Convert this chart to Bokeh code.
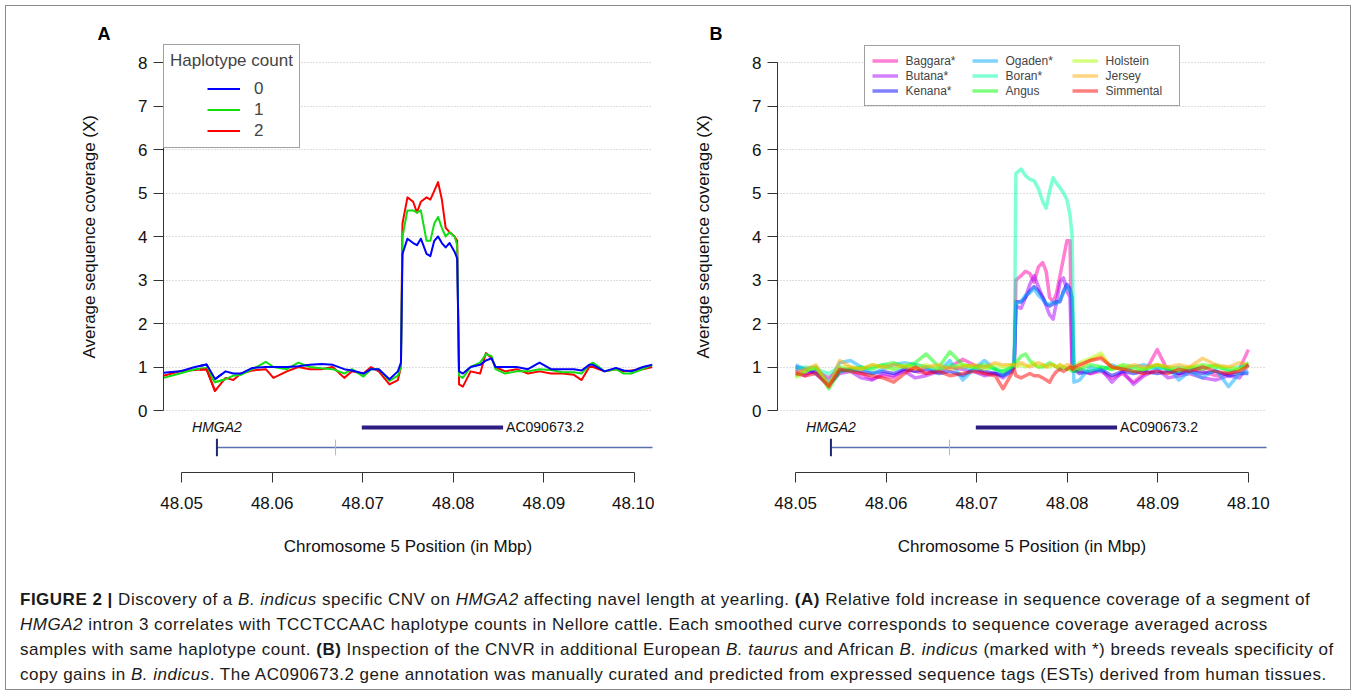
from bokeh.plotting import figure
from bokeh.models import (Range1d, FixedTicker, NumeralTickFormatter, Legend, LegendItem,
                          Div, Title)
from bokeh.layouts import column, row
from bokeh.embed import file_html
from bokeh.resources import INLINE
from bokeh.core.properties import value

FONT = "Liberation Sans"

# ---------------- Panel A: coverage by haplotype count ----------------
a_pos = [48.04801, 48.04979, 48.05148, 48.05275, 48.05368, 48.05486, 48.05571, 48.05655,
         48.05782, 48.05930, 48.06014, 48.06162, 48.06289, 48.06416, 48.06543, 48.06669,
         48.06796, 48.06881, 48.07008, 48.07092, 48.07177, 48.07295, 48.07388, 48.07422,
         48.07439, 48.07494, 48.07557, 48.07599, 48.07642, 48.07705, 48.07747, 48.07790,
         48.07832, 48.07874, 48.07916, 48.07959, 48.08014, 48.08043, 48.08064, 48.08106,
         48.08191, 48.08297, 48.08360, 48.08423, 48.08466, 48.08571, 48.08698, 48.08825,
         48.08952, 48.09079, 48.09205, 48.09332, 48.09417, 48.09501, 48.09543, 48.09670,
         48.09797, 48.09882, 48.09966, 48.10093, 48.10199]
a_hap0 = [0.87, 0.90, 1.00, 1.06, 0.72, 0.90, 0.85, 0.85, 0.98, 1.00, 1.00, 1.00, 1.02, 1.05,
          1.07, 1.05, 0.95, 0.92, 0.85, 0.95, 0.95, 0.72, 0.90, 1.10, 3.60, 3.95, 3.85, 3.80,
          3.95, 3.60, 3.55, 3.90, 4.00, 3.85, 3.75, 3.85, 3.65, 3.50, 0.90, 0.85, 1.00, 1.05,
          1.15, 1.20, 1.00, 1.00, 1.00, 0.95, 1.10, 0.95, 0.95, 0.95, 0.92, 1.05, 1.05, 0.90,
          0.98, 0.92, 0.90, 1.00, 1.05]
a_hap1 = [0.75, 0.85, 0.95, 0.97, 0.65, 0.72, 0.80, 0.82, 0.95, 1.12, 1.00, 0.95, 1.10, 1.00,
          0.97, 0.95, 0.85, 0.95, 0.78, 0.95, 0.95, 0.68, 0.80, 1.00, 4.00, 4.60, 4.60, 4.55,
          4.60, 3.90, 3.90, 4.30, 4.45, 4.20, 4.00, 4.10, 4.00, 3.80, 0.80, 0.75, 1.00, 1.10,
          1.30, 1.25, 0.95, 0.85, 0.90, 0.90, 0.95, 0.93, 0.88, 0.88, 0.85, 1.05, 1.10, 0.90,
          0.95, 0.85, 0.85, 0.95, 1.05]
a_hap2 = [0.80, 0.90, 0.93, 0.95, 0.45, 0.75, 0.70, 0.85, 0.92, 0.95, 0.75, 0.90, 1.00, 0.95,
          0.95, 1.00, 0.75, 0.90, 0.85, 1.00, 0.90, 0.60, 0.70, 1.00, 4.30, 4.90, 4.80, 4.55,
          4.80, 4.90, 4.85, 5.05, 5.25, 4.85, 4.20, 4.10, 4.00, 3.90, 0.60, 0.55, 0.90, 0.85,
          1.32, 1.20, 1.00, 0.90, 0.95, 0.85, 0.90, 0.85, 0.85, 0.82, 0.70, 1.00, 1.00, 0.90,
          0.95, 0.90, 0.92, 0.95, 1.00]
hap_labels = ["0", "1", "2"]
hap_colors = ["#0000FF", "#11DD11", "#FF0000"]

# ---------------- Panel B: coverage by breed ----------------
b_pos = [48.05000, 48.05105, 48.05224, 48.05367, 48.05487, 48.05606, 48.05725, 48.05844, 48.05964, 48.06083,
         48.06202, 48.06322, 48.06441, 48.06584, 48.06703, 48.06846, 48.06966, 48.07085, 48.07204, 48.07290,
         48.07386, 48.07414, 48.07433, 48.07490, 48.07538, 48.07586, 48.07634, 48.07681, 48.07729, 48.07767,
         48.07805, 48.07844, 48.07882, 48.07920, 48.07958, 48.07996, 48.08030, 48.08053, 48.08073, 48.08135,
         48.08254, 48.08373, 48.08492, 48.08612, 48.08731, 48.08850, 48.08993, 48.09113, 48.09232, 48.09351,
         48.09494, 48.09637, 48.09781, 48.09900, 48.10000]
b_baggara = [0.95, 0.85, 0.90, 0.75, 0.95, 0.95, 0.85, 0.72, 0.80, 0.75,
             0.95, 0.90, 0.85, 0.95, 1.00, 1.18, 1.05, 0.85, 0.85, 0.80,
             0.90, 1.00, 3.00, 3.10, 3.20, 3.15, 2.95, 3.30, 3.40, 3.20,
             2.60, 2.50, 2.70, 3.10, 3.50, 3.90, 3.90, 1.00, 0.95, 0.90,
             0.85, 0.90, 0.75, 0.85, 0.65, 0.85, 1.40, 0.90, 0.85, 0.95,
             0.90, 0.80, 0.85, 0.95, 1.40]
b_butana = [0.90, 0.80, 0.95, 0.60, 0.85, 0.90, 0.75, 0.70, 0.85, 0.80,
            0.90, 0.75, 0.80, 0.90, 1.00, 0.95, 0.90, 0.80, 0.85, 0.75,
            0.90, 1.00, 2.40, 2.35, 2.60, 2.90, 3.10, 2.85, 2.60, 2.40,
            2.20, 2.10, 2.50, 2.95, 3.05, 2.75, 2.60, 1.00, 0.90, 0.95,
            0.85, 0.95, 0.65, 0.90, 0.60, 0.80, 0.95, 0.75, 0.80, 0.85,
            0.75, 0.70, 0.80, 0.75, 1.05]
b_kenana = [1.00, 0.95, 0.85, 0.60, 0.90, 0.95, 0.90, 0.85, 0.90, 0.85,
            0.95, 0.90, 0.95, 0.85, 0.90, 0.80, 0.95, 0.90, 0.85, 0.80,
            0.95, 1.10, 2.50, 2.50, 2.60, 2.75, 2.85, 2.75, 2.60, 2.45,
            2.40, 2.45, 2.50, 2.50, 2.75, 2.90, 2.80, 2.60, 0.95, 0.85,
            0.90, 0.95, 0.80, 0.90, 0.85, 0.90, 0.85, 0.90, 0.85, 0.90,
            0.85, 0.90, 0.80, 0.85, 0.85]
b_ogaden = [1.05, 0.95, 1.00, 0.65, 1.10, 1.15, 1.00, 0.85, 0.95, 1.05,
            1.10, 1.05, 1.00, 0.90, 1.15, 0.70, 0.95, 1.15, 0.95, 0.80,
            0.90, 1.10, 2.45, 2.50, 2.65, 2.70, 2.80, 2.65, 2.55, 2.45,
            2.45, 2.50, 2.45, 2.55, 2.70, 2.85, 2.75, 2.55, 0.65, 0.70,
            1.00, 0.90, 1.05, 0.95, 1.00, 1.05, 0.95, 1.00, 0.70, 0.90,
            0.75, 0.95, 0.55, 0.85, 0.90]
b_boran = [0.95, 1.00, 0.95, 0.85, 1.00, 0.90, 0.95, 1.00, 1.05, 0.95,
           1.00, 1.05, 1.00, 0.95, 1.05, 1.00, 0.95, 1.00, 0.95, 0.90,
           1.00, 1.10, 5.45, 5.55, 5.40, 5.32, 5.28, 5.10, 4.80, 4.65,
           5.05, 5.35, 5.22, 5.12, 5.00, 4.85, 4.50, 4.00, 1.00, 0.95,
           0.90, 1.00, 0.95, 1.05, 1.00, 0.95, 1.00, 0.95, 1.00, 0.95,
           1.05, 1.00, 0.95, 1.00, 1.05]
b_angus = [0.80, 0.90, 1.00, 0.50, 0.90, 0.95, 1.00, 0.95, 1.05, 1.10,
           1.00, 1.10, 1.30, 1.00, 1.35, 1.05, 1.00, 1.05, 0.95, 0.90,
           1.00, 1.10, 1.10, 1.25, 1.30, 1.15, 1.05, 1.00, 1.00, 1.05,
           1.10, 1.05, 1.00, 0.95, 1.00, 0.95, 0.95, 0.90, 0.90, 0.95,
           1.05, 1.00, 0.95, 1.00, 0.90, 0.95, 1.05, 0.95, 0.90, 1.00,
           0.95, 1.05, 0.90, 0.95, 1.10]
b_holstein = [0.75, 0.90, 1.00, 0.60, 1.00, 1.00, 0.95, 1.05, 1.00, 0.95,
              1.05, 1.00, 1.05, 0.95, 1.00, 1.05, 1.00, 0.95, 1.05, 1.00,
              1.05, 1.05, 1.00, 1.05, 1.00, 1.05, 1.10, 1.00, 1.05, 1.00,
              1.00, 1.05, 1.00, 1.05, 1.00, 0.95, 1.00, 0.95, 1.00, 1.10,
              1.20, 1.32, 0.95, 1.05, 1.00, 0.95, 1.05, 1.00, 0.95, 1.00,
              1.05, 1.00, 1.00, 0.95, 1.00]
b_jersey = [0.85, 0.95, 1.05, 0.55, 1.15, 1.00, 0.95, 1.05, 1.00, 1.05,
            1.00, 0.95, 1.00, 1.05, 0.95, 1.00, 1.05, 1.00, 1.10, 1.05,
            1.05, 1.05, 1.05, 1.10, 1.05, 1.00, 1.05, 1.10, 1.05, 1.00,
            1.05, 1.05, 1.00, 1.05, 1.00, 1.05, 1.05, 1.00, 0.95, 1.00,
            1.15, 1.25, 1.00, 0.95, 1.05, 1.00, 1.05, 1.00, 1.05, 1.00,
            1.20, 1.05, 1.00, 1.10, 1.05]
b_simmental = [0.85, 0.80, 0.85, 0.55, 0.95, 0.90, 0.85, 0.80, 0.75, 0.65,
               0.85, 1.00, 0.85, 0.90, 0.80, 0.85, 0.90, 0.85, 0.80, 0.50,
               0.85, 0.95, 0.80, 0.75, 0.80, 0.85, 0.80, 0.80, 0.75, 0.70,
               0.65, 0.80, 0.90, 0.95, 0.90, 0.95, 1.00, 0.95, 1.00, 1.05,
               1.15, 1.20, 1.00, 0.95, 0.90, 0.85, 0.90, 0.85, 0.95, 0.90,
               1.00, 0.90, 0.85, 0.90, 1.05]
breeds = ["Baggara*", "Butana*", "Kenana*", "Ogaden*", "Boran*", "Angus",
          "Holstein", "Jersey", "Simmental"]
breed_series = [b_baggara, b_butana, b_kenana, b_ogaden, b_boran, b_angus,
                b_holstein, b_jersey, b_simmental]
breed_colors = ["#FF00AA", "#AA00FF", "#0000FF", "#00AAFF", "#00FFAA", "#00FF00",
                "#AAFF00", "#FFAA00", "#FF0000"]

# ---------------- gene annotation track ----------------
gene_names = ["HMGA2", "AC090673.2"]
gene_starts = [48.0539, 48.0699]
gene_ends = [48.1900, 48.0855]
hmga2_marks = [48.0539, 48.0670]

x_ticks = [48.05, 48.06, 48.07, 48.08, 48.09, 48.10]
y_ticks = [0, 1, 2, 3, 4, 5, 6, 7, 8]

# track layout (data units below the coverage axis)
AC_Y = -0.39
HM_Y = -0.85
MARK_HALF = [0.20, 0.18]


def make_panel(letter, width, border_left, border_right, title_offset):
    p = figure(width=width, height=570, output_backend="svg", toolbar_location=None,
               x_range=Range1d(48.048, 48.102), y_range=Range1d(-1.425, 8.414),
               min_border_left=border_left, min_border_right=border_right,
               min_border_top=38, min_border_bottom=104,
               outline_line_color=None, background_fill_color="white",
               border_fill_color="white")
    p.title.text = letter
    p.title.align = "left"
    p.title.offset = title_offset
    p.title.standoff = 2
    p.title.text_font = FONT
    p.title.text_font_size = "18px"
    p.title.text_font_style = "bold"
    p.title.text_color = "#000000"

    xt = FixedTicker(ticks=x_ticks, minor_ticks=[])
    yt = FixedTicker(ticks=y_ticks, minor_ticks=[])
    for ax, tk in ((p.xaxis[0], xt), (p.yaxis[0], yt)):
        ax.ticker = tk
        ax.major_tick_out = 10
        ax.major_tick_in = 0
        ax.minor_tick_out = 0
        ax.minor_tick_in = 0
        ax.axis_line_color = "#333333"
        ax.major_tick_line_color = "#333333"
        ax.major_label_text_font = FONT
        ax.major_label_text_font_size = "17px"
        ax.major_label_text_color = "#111111"
        ax.axis_label_text_font = FONT
        ax.axis_label_text_font_size = "17px"
        ax.axis_label_text_font_style = "normal"
        ax.axis_label_text_color = "#111111"
    p.xaxis.bounds = (48.05, 48.10)
    p.xaxis.formatter = NumeralTickFormatter(format="0.00")
    p.xaxis.major_label_standoff = 14
    p.xaxis.axis_label = "Chromosome 5 Position (in Mbp)"
    p.xaxis.axis_label_standoff = 25
    p.yaxis.bounds = (0, 8)
    p.yaxis.major_label_standoff = 6

    ylab = Title(text="Average sequence coverage (X)", align="left", offset=114,
                 standoff=74, text_font=FONT, text_font_size="17px",
                 text_font_style="normal", text_color="#111111")
    p.add_layout(ylab, "left")

    p.xgrid.visible = False
    p.ygrid.ticker = yt
    p.ygrid.grid_line_color = "#bdbdbd"
    p.ygrid.grid_line_dash = "1 2"
    p.ygrid.grid_line_width = 1

    # gene annotation track
    p.segment(x0=[gene_starts[0]], x1=[gene_ends[0]], y0=[HM_Y], y1=[HM_Y],
              line_color="#5a6fae", line_width=1.5)
    p.segment(x0=hmga2_marks, x1=hmga2_marks,
              y0=[HM_Y - h for h in MARK_HALF], y1=[HM_Y + h for h in MARK_HALF],
              line_color=["#1c2a6e", "#a9b6dc"], line_width=[2, 1])
    p.segment(x0=[gene_starts[1]], x1=[gene_ends[1]], y0=[AC_Y], y1=[AC_Y],
              line_color="#2e1c80", line_width=4)
    p.text(x=[gene_starts[0]], y=[AC_Y], text=[gene_names[0]], text_align="center",
           text_baseline="middle", text_font=value(FONT), text_font_style="italic",
           text_font_size="14px", text_color="#111111")
    p.text(x=[gene_ends[1]], y=[AC_Y], text=[gene_names[1]], x_offset=3, text_align="left",
           text_baseline="middle", text_font=value(FONT), text_font_size="14px",
           text_color="#111111")
    return p


# ---- Panel A ----
pA = make_panel("A", 648, 157, 2, -66)
series_a = [a_hap0, a_hap1, a_hap2]
for ys, col in zip(series_a[::-1], hap_colors[::-1]):
    pA.line(x=a_pos, y=ys, line_color=col, line_width=2, line_join="round")
items_a = []
for lab, ys, col in zip(hap_labels, series_a, hap_colors):
    # legend key: same curve, dash pattern only reveals a short key segment in the legend box
    key = pA.line(x=a_pos, y=ys, line_color=col, line_width=2, line_join="round",
                  line_dash="33 5000", line_dash_offset=4996)
    items_a.append(LegendItem(label=lab, renderers=[key]))
legA = Legend(items=items_a, title="Haplotype count", location="top_left", margin=0,
              padding=6, spacing=0, glyph_width=70, glyph_height=21, label_height=21,
              label_standoff=14, title_standoff=7, border_line_color="#444444",
              border_line_width=1, background_fill_color="white", background_fill_alpha=1,
              label_text_font=FONT, label_text_font_size="17px",
              title_text_font=FONT, title_text_font_size="17px",
              title_text_font_style="normal")
pA.add_layout(legA)

# ---- Panel B ----
pB = make_panel("B", 696, 121, 84, -68)
items_b = []
for name, ys, col in zip(breeds, breed_series, breed_colors):
    r = pB.line(x=b_pos, y=ys, line_color=col, line_alpha=0.5, line_width=3.5,
                line_join="round")
    items_b.append(LegendItem(label=name, renderers=[r]))
legB = Legend(items=items_b, location="top", margin=1, orientation="vertical", nrows=3,
              padding=7, spacing=0, glyph_width=26, glyph_height=15, label_height=15,
              label_width=66, label_standoff=8, border_line_color="#444444",
              border_line_width=1, background_fill_color="white", background_fill_alpha=1,
              label_text_font=FONT, label_text_font_size="12px")
pB.add_layout(legB)

caption_html = (
    "<b>FIGURE 2 |</b> Discovery of a <i>B. indicus</i> specific CNV on <i>HMGA2</i> affecting navel "
    "length at yearling. <b>(A)</b> Relative fold increase in sequence coverage of a segment of<br>"
    "<i>HMGA2</i> intron 3 correlates with TCCTCCAAC haplotype counts in Nellore cattle. Each smoothed "
    "curve corresponds to sequence coverage averaged across<br>"
    "samples with same haplotype count. <b>(B)</b> Inspection of the CNVR in additional European "
    "<i>B. taurus</i> and African <i>B. indicus</i> (marked with *) breeds reveals specificity of<br>"
    "copy gains in <i>B. indicus</i>. The AC090673.2 gene annotation was manually curated and "
    "predicted from expressed sequence tags (ESTs) derived from human tissues."
)
cap = Div(text=caption_html, width=1326, height=102, margin=(11, 0, 0, 14),
          styles={"font-family": "'Liberation Sans', Arial, sans-serif", "font-size": "17px",
                  "letter-spacing": "0.5px", "line-height": "25px",
                  "white-space": "nowrap", "color": "#1a1a1a"})

layout = column(row(pA, pB), cap, margin=(5, 5, 5, 5),
                styles={"border": "1px solid #8a8a8a"})

with open("out.html", "w") as f:
    f.write(file_html(layout, INLINE))
